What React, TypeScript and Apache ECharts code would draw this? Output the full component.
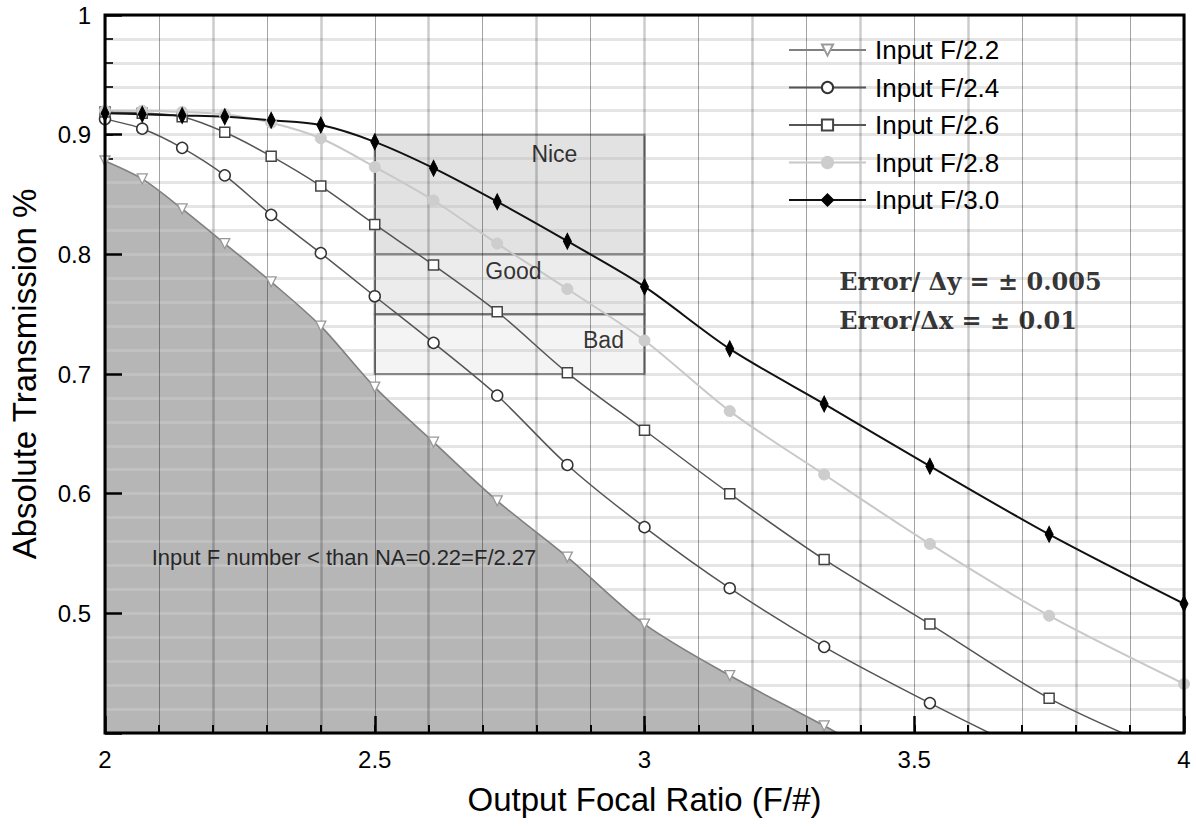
import React, { useEffect, useRef } from 'react';
import * as echarts from 'echarts';

// Output focal ratio sample positions (F/#)
const xValues = [2.0, 2.069, 2.143, 2.222, 2.308, 2.4, 2.5, 2.609, 2.727, 2.857, 3.0, 3.158, 3.333, 3.529, 3.75, 4.0];

const seriesNames = ['Input F/2.2', 'Input F/2.4', 'Input F/2.6', 'Input F/2.8', 'Input F/3.0'];

const f22 = [0.878, 0.863, 0.838, 0.809, 0.777, 0.740, 0.689, 0.643, 0.594, 0.547, 0.491, 0.448, 0.406, 0.357, 0.31, 0.26];
const f24 = [0.913, 0.905, 0.889, 0.866, 0.833, 0.801, 0.765, 0.726, 0.682, 0.624, 0.572, 0.521, 0.472, 0.425, 0.376, 0.325];
const f26 = [0.919, 0.918, 0.915, 0.902, 0.882, 0.857, 0.825, 0.791, 0.752, 0.701, 0.653, 0.600, 0.545, 0.491, 0.429, 0.378];
const f28 = [0.920, 0.920, 0.919, 0.917, 0.910, 0.897, 0.873, 0.845, 0.809, 0.771, 0.728, 0.669, 0.616, 0.558, 0.498, 0.441];
const f30 = [0.918, 0.917, 0.916, 0.915, 0.912, 0.908, 0.894, 0.872, 0.844, 0.811, 0.773, 0.721, 0.675, 0.623, 0.566, 0.508];

// Quality zones (x from 2.5 to 3.0)
const zoneX = [2.5, 3.0];
const zoneNames = ['Nice', 'Good', 'Bad'];
const zoneTop = [0.9, 0.8, 0.75];
const zoneBottom = [0.8, 0.75, 0.7];
const zoneLabelPos = [[2.833, 0.884], [2.757, 0.786], [2.924, 0.728]];

const noteText = 'Input F number < than NA=0.22=F/2.27';
const notePos = [2.443, 0.547];
const errorTexts = ['Error/ Δy = ± 0.005', 'Error/Δx = ± 0.01'];
const errorPos = [[3.361, 0.777], [3.361, 0.745]];

const FONT = 'Liberation Sans';

export default function App() {
  const ref = useRef<HTMLDivElement>(null);

  useEffect(() => {
    if (!ref.current) return;
    const chart = echarts.init(ref.current, undefined, { renderer: 'svg' });

    const pts = (vals: number[]) => xValues.map((x, i) => [x, vals[i]]);

    const lineSeries = (name: string, vals: number[], lineColor: string, width: number, symbol: string, size: any, itemStyle: any, rotate = 0) => ({
      type: 'line',
      name,
      data: pts(vals),
      smooth: 0.3,
      symbol,
      symbolSize: size,
      symbolRotate: rotate,
      showSymbol: true,
      clip: true,
      lineStyle: { color: lineColor, width },
      itemStyle,
      z: 4,
    });

    const zoneData = zoneNames.map((n, i) => [
      {
        coord: [zoneX[0], zoneTop[i]],
        itemStyle: { color: ['rgba(150,150,150,0.28)', 'rgba(150,150,150,0.18)', 'rgba(150,150,150,0.1)'][i] },
      },
      { coord: [zoneX[1], zoneBottom[i]] },
    ]);

    const labelSeries = (data: any[], texts: string[], style: any, position: string) => ({
      type: 'scatter',
      symbolSize: 0,
      silent: true,
      z: 7,
      data: data.map((p, i) => ({ value: p, label: { formatter: texts[i] } })),
      label: { show: true, position, distance: 0, color: '#000', ...style },
    });

    const yBase = { type: 'value', min: 0.4, max: 1.0, position: 'left', axisLine: { show: false } };
    const xBase = { type: 'value', min: 2, max: 4, position: 'bottom', axisLine: { show: false } };

    const option: any = {
      animation: false,
      grid: {
        left: 103,
        top: 15,
        width: 1081,
        height: 718,
        show: true,
        borderColor: '#000',
        borderWidth: 3,
        backgroundColor: 'rgba(0,0,0,0)',
        z: 6,
      },
      legend: {
        orient: 'vertical',
        left: 783,
        top: 32,
        itemWidth: 77,
        itemHeight: 14,
        itemGap: 11.5,
        data: seriesNames,
        textStyle: { fontSize: 26, lineHeight: 25, color: '#000', fontFamily: FONT, padding: [0, 0, 0, 4] },
        selectedMode: false,
      },
      xAxis: [
        {
          ...xBase,
          interval: 0.2,
          z: 2,
          axisTick: { show: true, inside: true, length: 8, lineStyle: { color: '#000', width: 2 } },
          minorTick: { show: true, splitNumber: 2, length: 8, lineStyle: { color: '#000', width: 2 } },
          axisLabel: { show: false },
          splitLine: { show: true, lineStyle: { color: 'rgba(0,0,0,0.2)', width: 2.5 } },
          minorSplitLine: { show: true, lineStyle: { color: 'rgba(0,0,0,0.36)', width: 1 } },
        },
        {
          ...xBase,
          interval: 0.5,
          z: 2,
          axisTick: { show: true, inside: true, length: 17, lineStyle: { color: '#000', width: 2.5 } },
          axisLabel: { show: true, fontSize: 24, color: '#000', fontFamily: FONT, margin: 14, formatter: (v: number) => String(Math.round(v * 10) / 10) },
          splitLine: { show: false },
          name: 'Output Focal Ratio (F/#)',
          nameLocation: 'middle',
          nameGap: 50,
          nameTextStyle: { fontSize: 33, color: '#000', fontFamily: FONT },
        },
      ],
      yAxis: [
        {
          ...yBase,
          interval: 0.02,
          z: 0,
          axisTick: { show: true, inside: true, length: 8, lineStyle: { color: '#000', width: 2 } },
          axisLabel: { show: false },
          splitLine: { show: true, lineStyle: { color: '#e0e0e0', width: 3 } },
        },
        {
          ...yBase,
          interval: 0.1,
          z: 2,
          axisTick: { show: true, inside: true, length: 17, lineStyle: { color: '#000', width: 2.5 } },
          axisLabel: {
            show: true,
            fontSize: 24,
            color: '#000',
            fontFamily: FONT,
            margin: 14,
            formatter: (v: number) => (v < 0.45 ? '' : String(Math.round(v * 10) / 10)),
          },
          splitLine: { show: false },
          name: 'Absolute Transmission %',
          nameLocation: 'middle',
          nameGap: 64,
          nameRotate: 90,
          nameTextStyle: { fontSize: 33, color: '#000', fontFamily: FONT },
        },
        {
          ...yBase,
          interval: 0.02,
          z: 2,
          axisTick: { show: false },
          axisLabel: { show: false },
          splitLine: { show: true, lineStyle: { color: 'rgba(255,255,255,0.16)', width: 3 } },
        },
      ],
      series: [
        {
          type: 'line',
          name: 'shade',
          data: pts(f22),
          smooth: 0.3,
          symbol: 'none',
          lineStyle: { width: 0 },
          areaStyle: { color: '#b6b6b6', opacity: 1, origin: 'start' },
          clip: true,
          silent: true,
          z: 1,
        },
        {
          type: 'line',
          name: 'zones',
          data: [],
          z: 3,
          silent: true,
          markArea: {
            silent: true,
            itemStyle: { borderColor: '#707070', borderWidth: 2 },
            label: { show: false },
            data: zoneData,
          },
        },
        lineSeries(seriesNames[0], f22, '#808080', 1.6, 'triangle', 10, { color: '#fff', borderColor: '#999', borderWidth: 1.3 }, 180),
        lineSeries(seriesNames[1], f24, '#555', 1.5, 'circle', 11, { color: '#fff', borderColor: '#333', borderWidth: 1.5 }),
        lineSeries(seriesNames[2], f26, '#555', 1.5, 'rect', 10, { color: '#fff', borderColor: '#444', borderWidth: 1.5 }),
        lineSeries(seriesNames[3], f28, '#c8c8c8', 2, 'circle', 11, { color: '#cdcdcd', borderColor: '#cdcdcd', borderWidth: 1 }),
        lineSeries(seriesNames[4], f30, '#111', 2, 'diamond', [8, 16], { color: '#000', borderColor: '#000', borderWidth: 1 }),
        labelSeries(zoneLabelPos, zoneNames, { fontSize: 23, fontFamily: FONT }, 'inside'),
        labelSeries([notePos], [noteText], { fontSize: 22, fontFamily: FONT }, 'inside'),
        labelSeries(errorPos, errorTexts, { fontSize: 24, fontFamily: 'DejaVu Serif', fontWeight: 'bold' }, 'right'),
      ],
    };

    chart.setOption(option);
    return () => chart.dispose();
  }, []);

  return (
    <div style={{ position: 'fixed', left: 0, top: 0, width: 1196, height: 827, background: '#fff' }}>
      <div ref={ref} style={{ width: 1196, height: 827 }} />
    </div>
  );
}
